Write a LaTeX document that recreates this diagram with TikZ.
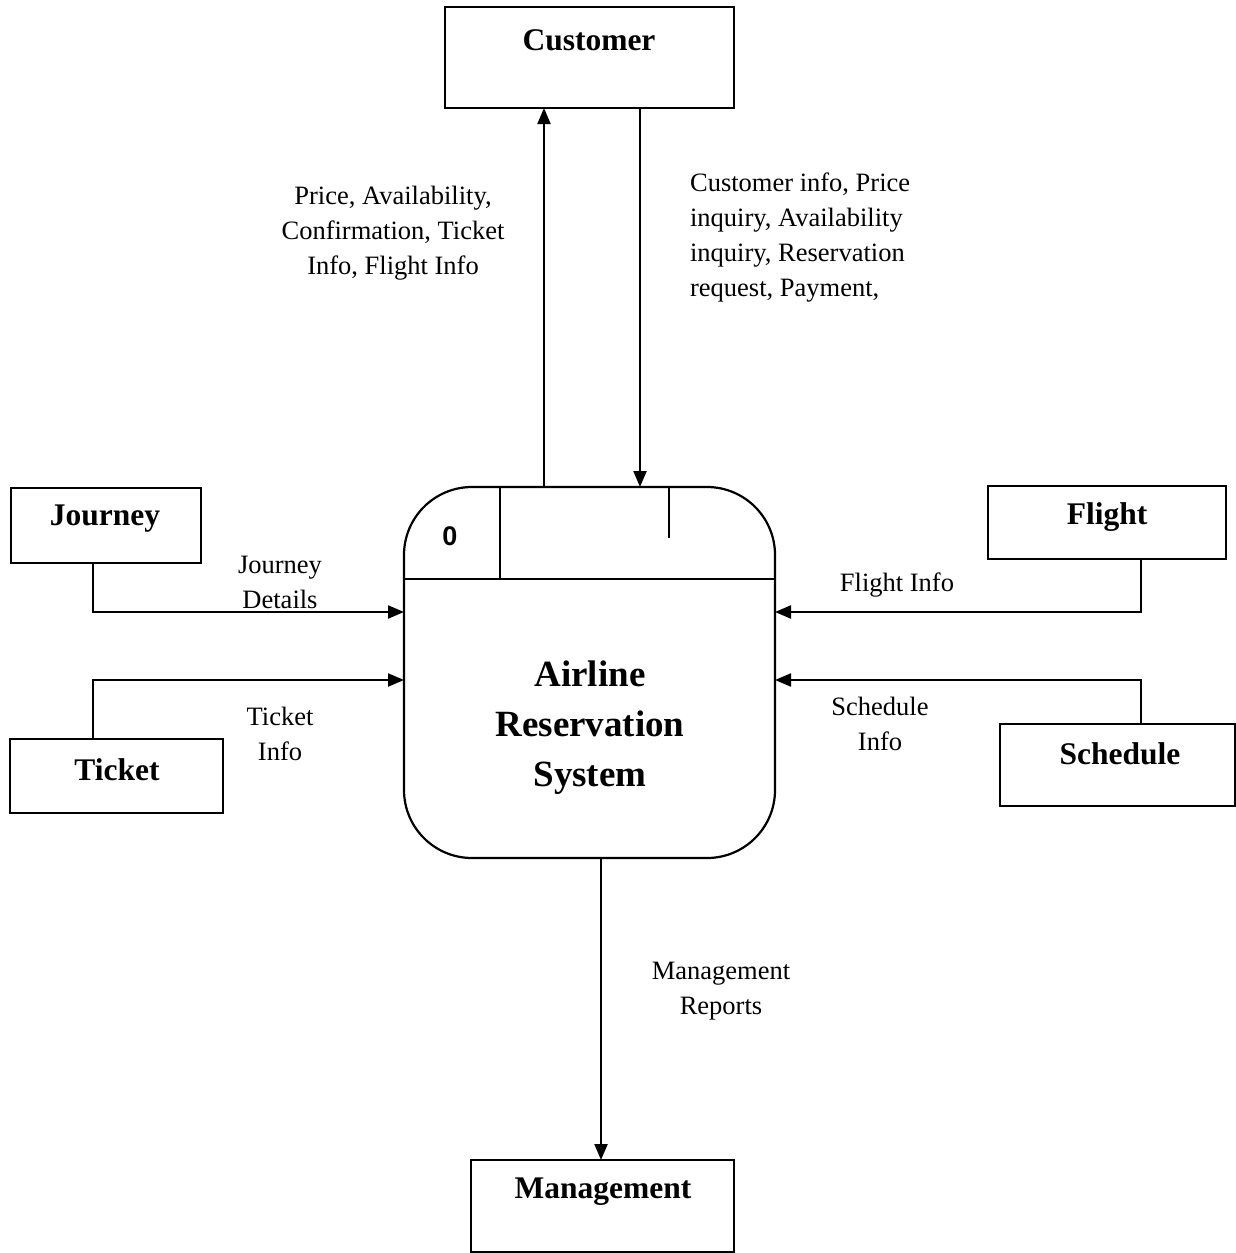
\documentclass[tikz,border=0pt]{standalone}
\usepackage{fontspec}
\setmainfont{Liberation Serif}
\newfontfamily\numfont{Liberation Sans}
\usetikzlibrary{arrows.meta}
\begin{document}
\begin{tikzpicture}[x=1pt,y=-1pt,
  line width=2.2pt,
  ebox/.style={draw, rectangle, inner sep=0pt},
  ename/.style={font=\fontsize{31.5}{36}\selectfont\bfseries, inner sep=0pt},
  flow/.style={font=\fontsize{26.5}{35}\selectfont, align=center, inner sep=0pt},
  arr/.style={-{Triangle[length=16pt,width=13pt]}}
]
\useasboundingbox (0,0) rectangle (1236,1253);

% external entities
\node[ebox, minimum width=289, minimum height=101] (cust) at (589.5,57.5) {};
\node[ename] (custT) at (589,40) {Customer};
\node[ebox, minimum width=190, minimum height=75] (jour) at (106,525.5) {};
\node[ename] (jourT) at (105,519) {Journey};
\node[ebox, minimum width=213, minimum height=74] (tick) at (116.5,776) {};
\node[ename] (tickT) at (117,770) {Ticket};
\node[ebox, minimum width=238, minimum height=73] (flig) at (1107,522.5) {};
\node[ename] (fligT) at (1107,517) {Flight};
\node[ebox, minimum width=235, minimum height=82] (sche) at (1117.5,765) {};
\node[ename] (scheT) at (1120,754) {Schedule};
\node[ebox, minimum width=263, minimum height=92] (mgmt) at (602.5,1206) {};
\node[ename] (mgmtT) at (603,1192) {Management};

% process 0
\node[draw, rectangle, rounded corners=68pt, minimum width=371, minimum height=371, inner sep=0pt] (proc) at (589.5,672.5) {};
\coordinate (divL) at (404,579);
\coordinate (divR) at (775,579);
\draw (divL) -- (divR);
\coordinate (idTop) at (500,487);
\coordinate (idBot) at (500,579);
\draw (idTop) -- (idBot);
\coordinate (tickTop) at (669,487);
\coordinate (tickBot) at (669,538);
\draw (tickTop) -- (tickBot);
\node[font=\numfont\fontsize{27}{30}\selectfont\bfseries, inner sep=0pt] (pid) at (450,536) {0};
\node[font=\fontsize{37}{50}\selectfont\bfseries, align=center, inner sep=0pt] (pname) at (590,728) {Airline\\Reservation\\System};

% data flows
\coordinate (upS) at (544,487);
\coordinate (upE) at (544,108);
\draw[arr] (upS) -- (upE);
\coordinate (dnS) at (640,108);
\coordinate (dnE) at (640,487);
\draw[arr] (dnS) -- (dnE);
\node[flow] (lblUp) at (393,233) {Price, Availability,\\Confirmation, Ticket\\Info, Flight Info};
\node[flow, align=left, anchor=west] (lblDn) at (689,238) {Customer info, Price\\inquiry, Availability\\inquiry, Reservation\\request, Payment,};

\coordinate (jA) at (93,563);
\coordinate (jB) at (93,612);
\coordinate (jC) at (404,612);
\draw[arr] (jA) -- (jB) -- (jC);
\node[flow] (lblJ) at (280,582) {Journey\\Details};

\coordinate (tA) at (93,739);
\coordinate (tB) at (93,680);
\coordinate (tC) at (404,680);
\draw[arr] (tA) -- (tB) -- (tC);
\node[flow] (lblT) at (280,734) {Ticket\\Info};

\coordinate (fA) at (1141,559);
\coordinate (fB) at (1141,612);
\coordinate (fC) at (775,612);
\draw[arr] (fA) -- (fB) -- (fC);
\node[flow] (lblF) at (897,585) {Flight Info};

\coordinate (sA) at (1141,724);
\coordinate (sB) at (1141,680);
\coordinate (sC) at (775,680);
\draw[arr] (sA) -- (sB) -- (sC);
\node[flow] (lblS) at (880,724) {Schedule\\Info};

\coordinate (mA) at (601,858);
\coordinate (mB) at (601,1160);
\draw[arr] (mA) -- (mB);
\node[flow] (lblM) at (721,991) {Management\\Reports};
\end{tikzpicture}
\end{document}
